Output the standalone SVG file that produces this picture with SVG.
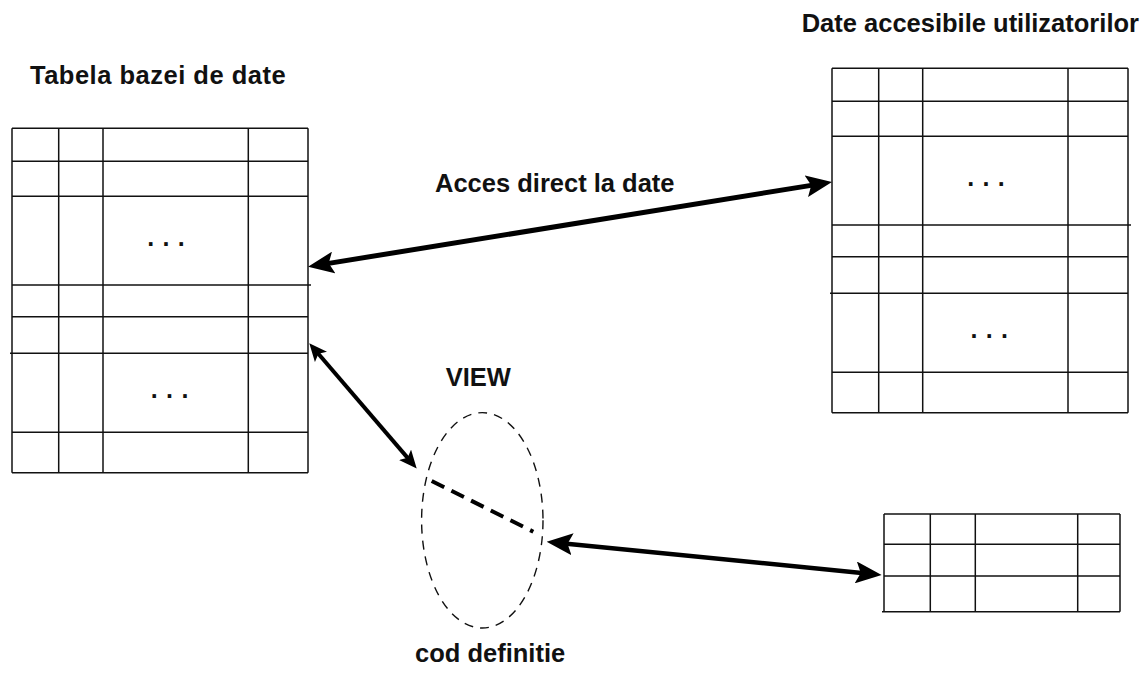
<svg xmlns="http://www.w3.org/2000/svg" width="1148" height="673" viewBox="0 0 1148 673">
  <style>
    .grid line { stroke: #111; stroke-width: 1.5; }
    .label { font-family: "Liberation Sans", Arial, sans-serif; font-weight: bold; font-size: 25.5px; fill: #111; }
    .dots { font-family: "Liberation Sans", Arial, sans-serif; font-weight: bold; font-size: 25px; letter-spacing: 0.7px; fill: #111; }
    .link { stroke: #000; fill: none; }
  </style>
  <defs>
    <marker id="headBig" markerUnits="userSpaceOnUse" markerWidth="26" markerHeight="22" viewBox="0 0 26 22" refX="16" refY="11" orient="auto-start-reverse">
      <path d="M0,0 L26,11 L0,22 L5,11 z" fill="#000"/>
    </marker>
    <marker id="headSmall" markerUnits="userSpaceOnUse" markerWidth="18" markerHeight="16" viewBox="0 0 18 16" refX="10" refY="8" orient="auto-start-reverse">
      <path d="M0,0 L18,8 L0,16 L4,8 z" fill="#000"/>
    </marker>
  </defs>

  <rect width="1148" height="673" fill="#fff"/>

  <!-- base table -->
  <g id="base-table" class="grid">
    <line x1="12" y1="128.3" x2="308" y2="128.3"/>
    <line x1="12" y1="161.3" x2="308" y2="161.3"/>
    <line x1="12" y1="196.3" x2="308" y2="196.3"/>
    <line x1="12" y1="285" x2="311" y2="285"/>
    <line x1="12" y1="316.7" x2="308" y2="316.7"/>
    <line x1="10" y1="353.3" x2="308" y2="353.3"/>
    <line x1="12" y1="432.3" x2="308" y2="432.3"/>
    <line x1="12" y1="472.7" x2="308" y2="472.7"/>
    <line x1="12" y1="128.3" x2="12" y2="472.7"/>
    <line x1="58.7" y1="128.3" x2="58.7" y2="472.7"/>
    <line x1="103" y1="128.3" x2="103" y2="472.7"/>
    <line x1="248.3" y1="128.3" x2="248.3" y2="472.7"/>
    <line x1="308" y1="128.3" x2="308" y2="472.7"/>
    <text class="dots" x="147.2" y="245.6">. . .</text>
    <text class="dots" x="150.8" y="398.3">. . .</text>
  </g>
  <text class="label" x="30" y="84.3" letter-spacing="0.5">Tabela bazei de date</text>

  <!-- user-visible table -->
  <g id="user-table" class="grid">
    <line x1="832" y1="68.3" x2="1128" y2="68.3"/>
    <line x1="832" y1="101.3" x2="1128" y2="101.3"/>
    <line x1="832" y1="136.3" x2="1128" y2="136.3"/>
    <line x1="832" y1="225" x2="1131" y2="225"/>
    <line x1="832" y1="256.7" x2="1128" y2="256.7"/>
    <line x1="830" y1="293.3" x2="1128" y2="293.3"/>
    <line x1="832" y1="372.3" x2="1128" y2="372.3"/>
    <line x1="832" y1="412.7" x2="1128" y2="412.7"/>
    <line x1="832" y1="68.3" x2="832" y2="412.7"/>
    <line x1="878.7" y1="68.3" x2="878.7" y2="412.7"/>
    <line x1="922.7" y1="68.3" x2="922.7" y2="412.7"/>
    <line x1="1068" y1="68.3" x2="1068" y2="412.7"/>
    <line x1="1128" y1="68.3" x2="1128" y2="412.7"/>
    <text class="dots" x="967.2" y="185.6">. . .</text>
    <text class="dots" x="970.5" y="338.3">. . .</text>
  </g>
  <text class="label" x="801.7" y="31.7">Date accesibile utilizatorilor</text>

  <!-- view result table -->
  <g id="view-table" class="grid">
    <line x1="884" y1="514" x2="1120" y2="514"/>
    <line x1="884" y1="544.3" x2="1120" y2="544.3"/>
    <line x1="884" y1="576" x2="1120" y2="576"/>
    <line x1="882" y1="611.7" x2="1120" y2="611.7"/>
    <line x1="884" y1="514" x2="884" y2="611.7"/>
    <line x1="930.3" y1="514" x2="930.3" y2="611.7"/>
    <line x1="975.3" y1="514" x2="975.3" y2="611.7"/>
    <line x1="1077.7" y1="514" x2="1077.7" y2="611.7"/>
    <line x1="1120" y1="514" x2="1120" y2="611.7"/>
  </g>

  <!-- view definition -->
  <g id="view">
    <ellipse cx="482.3" cy="520.3" rx="60.7" ry="107.7" fill="none" stroke="#111" stroke-width="1.4" stroke-dasharray="9 7"/>
    <line x1="431.7" y1="481" x2="533.3" y2="531.7" stroke="#000" stroke-width="4" stroke-dasharray="14 8"/>
    <text class="label" x="445.7" y="386">VIEW</text>
    <text class="label" x="415" y="662">cod definitie</text>
  </g>

  <!-- connectors -->
  <g id="connectors">
    <line class="link" x1="317.9" y1="265.1" x2="822.1" y2="183.6" stroke-width="5" marker-start="url(#headBig)" marker-end="url(#headBig)"/>
    <line class="link" x1="314.5" y1="349.3" x2="411.5" y2="462.4" stroke-width="4" marker-start="url(#headSmall)" marker-end="url(#headSmall)"/>
    <line class="link" x1="556.6" y1="542.7" x2="871.7" y2="574" stroke-width="4.5" marker-start="url(#headBig)" marker-end="url(#headBig)"/>
  </g>
  <text class="label" x="435" y="191.7">Acces direct la date</text>
</svg>
